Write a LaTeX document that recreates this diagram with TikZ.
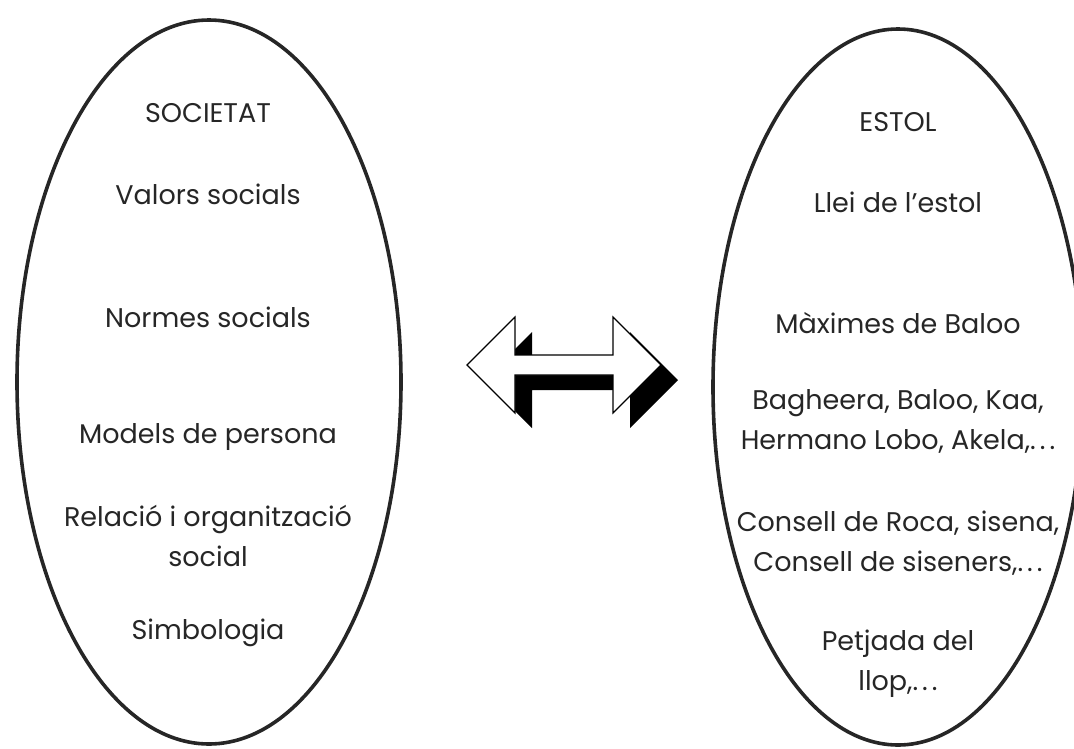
\documentclass[tikz,border=0pt]{standalone}
\usepackage{fontspec}
\setmainfont{Poppins}
\usepackage{tikz}
\tikzset{t/.style={align=center,inner sep=0pt,font=\fontsize{27}{40}\selectfont,text=black!85},oval/.style={draw=black!85,line width=3.6pt},arw/.style={draw=black,line width=1.1pt,fill=white,line join=miter}}
\def\dblarrow{(467,365)--(515,317)--(515,355)--(613,355)--(613,317)--(661,365)--(613,413)--(613,375)--(515,375)--(515,413)--cycle}
\newcommand\dd{.\kern4pt.\kern4pt.}

\begin{document}
\begin{tikzpicture}[x=1pt,y=-1pt]
\useasboundingbox(0,0)rectangle(1074,748);\clip(0,0)rectangle(1074,748);
\draw[oval](209,382)ellipse[x radius=192,y radius=362];
\draw[oval](898,387)ellipse[x radius=185,y radius=358];
% left oval
\node[t](soc)at(208,113){SOCIETAT};\node[t](val)at(208,194){Valors socials};
\node[t](nor)at(208,317){Normes socials};\node[t](mod)at(208,437){Models de persona};
\node[t](rel)at(208,536){Relació i organització\\social};\node[t](sim)at(208,633){Simbologia};
% right oval
\node[t](est)at(898,122){ESTOL};\node[t](llei)at(898,202){Llei de l{\char"0027}estol};
\node[t](max)at(898,323){Màximes de Baloo};
\node[t](bag)at(898,421){Bagheera, Baloo, Kaa,\\Hermano Lobo, Akela,\dd};
\node[t](cons)at(898,543){Consell de Roca, sisena,\\Consell de siseners,\dd};
\node[t](pet)at(898,664){Petjada del\\llop,\dd};
% arrow
\fill[shift={(17,15)}]\dblarrow;\draw[arw]\dblarrow;
\end{tikzpicture}
\end{document}
